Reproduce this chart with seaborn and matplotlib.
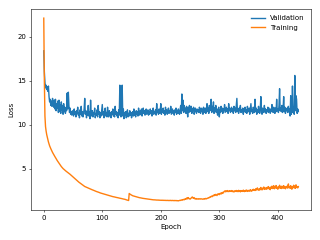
import numpy as np
import pandas as pd
import matplotlib
matplotlib.use("Agg")
import matplotlib.pyplot as plt
import seaborn as sns

# loss per epoch
validation_loss = [
    18.4, 16.0, 14.8, 14.2, 14.5, 14.0, 14.3, 13.8, 14.4, 13.2,
    12.6, 12.9, 12.2, 12.7, 12.1, 13.0, 12.3, 12.0, 12.8, 11.8,
    12.9, 11.6, 12.4, 11.9, 12.7, 11.4, 12.8, 11.5, 12.3, 11.3,
    12.6, 11.7, 12.2, 11.2, 12.4, 11.5, 12.0, 11.3, 11.9, 11.6,
    13.6, 11.8, 13.7, 12.2, 11.4, 11.9, 11.2, 11.5, 11.1, 11.6,
    11.3, 11.0, 11.8, 11.2, 11.5, 10.9, 11.6, 11.3, 12.0, 11.1,
    11.4, 10.8, 11.7, 11.2, 12.1, 11.0, 11.5, 10.9, 11.3, 11.8,
    13.0, 11.2, 11.6, 10.8, 11.4, 11.1, 12.2, 11.0, 11.5, 10.7,
    12.8, 11.3, 11.0, 11.6, 10.9, 11.4, 11.2, 11.9, 10.8, 11.3,
    11.1, 11.7, 10.9, 12.2, 11.2, 11.5, 10.8, 11.4, 11.0, 11.6,
    12.3, 11.1, 11.5, 10.8, 11.3, 11.9, 11.0, 11.4, 10.9, 12.0,
    11.2, 10.9, 11.6, 11.1, 11.4, 10.8, 11.5, 11.2, 11.8, 11.0,
    11.3, 10.9, 12.1, 11.2, 11.5, 11.0, 11.4, 10.8, 11.7, 11.1,
    14.5, 11.3, 10.9, 11.6, 14.5, 11.0, 11.8, 10.7, 11.4, 11.1,
    11.5, 10.8, 11.2, 11.7, 10.9, 11.3, 11.0, 11.6, 11.1, 11.4,
    10.8, 11.2, 11.5, 11.0, 11.8, 11.1, 11.4, 10.9, 11.6, 11.2,
    11.5, 11.0, 11.9, 11.3, 11.1, 11.6, 11.2, 11.8, 11.0, 11.4,
    11.9, 11.3, 11.6, 11.1, 11.5, 11.8, 11.2, 11.4, 11.7, 11.1,
    11.5, 11.2, 11.8, 11.3, 11.6, 11.0, 11.4, 11.9, 11.2, 11.5,
    11.3, 11.7, 11.1, 12.4, 11.4, 11.6, 11.2, 11.8, 11.3, 11.5,
    12.4, 11.2, 11.7, 11.4, 11.9, 11.3, 11.6, 11.1, 12.0, 11.4,
    11.7, 11.2, 11.5, 11.9, 11.3, 11.6, 11.4, 12.1, 11.2, 11.5,
    11.8, 11.3, 11.6, 11.1, 11.7, 11.4, 11.9, 11.2, 11.6, 11.3,
    11.8, 11.4, 11.2, 11.7, 12.2, 11.3, 13.5, 11.6, 12.8, 11.4,
    12.2, 11.5, 11.9, 11.3, 12.1, 11.6, 10.9, 12.0, 11.4, 12.2,
    11.7, 11.5, 12.1, 11.3, 11.8, 11.6, 12.0, 11.2, 11.5, 11.9,
    11.6, 11.3, 11.8, 11.5, 11.7, 11.4, 12.0, 11.6, 11.3, 11.9,
    11.5, 11.8, 11.2, 12.0, 11.6, 11.4, 11.9, 11.3, 11.7, 12.4,
    11.5, 11.9, 11.3, 12.2, 11.6, 11.8, 12.9, 11.4, 12.1, 11.6,
    12.6, 11.3, 11.9, 11.5, 12.2, 11.4, 11.8, 11.1, 11.6, 12.0,
    10.9, 11.7, 11.4, 12.1, 11.5, 11.9, 11.3, 11.8, 11.6, 12.3,
    11.4, 11.7, 12.0, 11.5, 11.8, 11.3, 12.4, 11.6, 11.9, 11.4,
    11.7, 12.0, 11.5, 11.8, 11.3, 12.1, 11.6, 11.9, 11.4, 12.2,
    13.0, 11.5, 11.8, 11.3, 11.9, 11.6, 12.2, 11.4, 11.7, 11.5,
    11.9, 11.2, 11.8, 11.5, 12.0, 11.4, 11.7, 11.3, 12.1, 11.6,
    11.5, 11.9, 11.2, 11.8, 12.4, 11.5, 11.7, 11.3, 12.0, 11.6,
    11.4, 12.9, 11.5, 11.9, 11.2, 11.7, 11.4, 12.1, 11.6, 11.3,
    11.8, 13.2, 11.5, 11.2, 11.9, 11.6, 11.4, 12.2, 11.5, 11.8,
    11.3, 11.7, 11.5, 12.0, 11.4, 11.9, 11.6, 11.3, 11.8, 11.5,
    12.3, 11.6, 11.4, 12.0, 11.7, 11.3, 11.9, 11.5, 12.9, 11.6,
    11.8, 11.4, 12.2, 14.1, 11.6, 11.9, 11.5, 12.2, 11.4, 11.8,
    13.2, 11.5, 12.0, 11.3, 11.8, 11.6, 11.9, 11.4, 12.1, 11.5,
    11.8, 11.0, 13.3, 11.2, 11.7, 14.4, 11.4, 12.0, 11.2, 15.6,
    11.6, 13.3, 12.9, 11.3, 11.8, 11.5,
]

training_loss = [
    22.1, 15.0, 11.0, 9.8, 9.3, 8.9, 8.6, 8.3, 8.05, 7.82,
    7.62, 7.45, 7.3, 7.15, 7.0, 6.87, 6.75, 6.62, 6.5, 6.4,
    6.3, 6.18, 6.06, 5.95, 5.85, 5.74, 5.64, 5.54, 5.45, 5.36,
    5.27, 5.19, 5.11, 5.04, 4.98, 4.92, 4.86, 4.8, 4.75, 4.7,
    4.65, 4.6, 4.55, 4.5, 4.45, 4.39, 4.33, 4.27, 4.21, 4.15,
    4.1, 4.04, 3.98, 3.92, 3.86, 3.8, 3.74, 3.68, 3.62, 3.56,
    3.5, 3.45, 3.4, 3.35, 3.3, 3.25, 3.2, 3.15, 3.1, 3.05,
    3.01, 2.98, 2.95, 2.92, 2.89, 2.86, 2.83, 2.8, 2.77, 2.74,
    2.72, 2.69, 2.66, 2.63, 2.61, 2.58, 2.55, 2.53, 2.5, 2.47,
    2.44, 2.42, 2.4, 2.37, 2.35, 2.32, 2.3, 2.27, 2.25, 2.22,
    2.2, 2.18, 2.16, 2.14, 2.12, 2.1, 2.08, 2.06, 2.04, 2.02,
    2.0, 1.98, 1.96, 1.95, 1.93, 1.91, 1.89, 1.88, 1.86, 1.85,
    1.83, 1.82, 1.8, 1.79, 1.77, 1.76, 1.74, 1.73, 1.71, 1.7,
    1.68, 1.67, 1.65, 1.64, 1.62, 1.61, 1.59, 1.58, 1.56, 1.55,
    1.52, 1.5, 1.48, 1.46, 1.44, 1.42, 2.22, 2.16, 2.11, 2.07,
    2.02, 1.99, 1.96, 1.94, 1.91, 1.89, 1.87, 1.85, 1.83, 1.82,
    1.8, 1.78, 1.77, 1.75, 1.74, 1.72, 1.71, 1.7, 1.68, 1.67,
    1.66, 1.65, 1.63, 1.62, 1.61, 1.6, 1.59, 1.58, 1.57, 1.56,
    1.55, 1.55, 1.54, 1.53, 1.52, 1.52, 1.51, 1.5, 1.5, 1.49,
    1.49, 1.48, 1.48, 1.47, 1.47, 1.46, 1.47, 1.45, 1.46, 1.45,
    1.45, 1.44, 1.46, 1.44, 1.43, 1.45, 1.44, 1.43, 1.44, 1.42,
    1.43, 1.44, 1.42, 1.43, 1.41, 1.43, 1.42, 1.44, 1.41, 1.42,
    1.43, 1.41, 1.42, 1.4, 1.43, 1.41, 1.4, 1.42, 1.39, 1.41,
    1.38, 1.4, 1.43, 1.45, 1.42, 1.47, 1.5, 1.46, 1.52, 1.55,
    1.5, 1.58, 1.62, 1.55, 1.68, 1.72, 1.6, 1.75, 1.65, 1.62,
    1.58, 1.63, 1.7, 1.78, 1.82, 1.7, 1.66, 1.75, 1.62, 1.6,
    1.65, 1.58, 1.62, 1.6, 1.57, 1.63, 1.6, 1.58, 1.62, 1.59,
    1.61, 1.58, 1.56, 1.6, 1.63, 1.58, 1.62, 1.66, 1.61, 1.65,
    1.68, 1.72, 1.7, 1.78, 1.82, 1.79, 1.88, 1.92, 1.86, 1.95,
    2.02, 1.96, 2.08, 2.0, 2.12, 2.05, 1.98, 2.15, 2.1, 2.18,
    2.08, 2.2, 2.25, 2.15, 2.3, 2.22, 2.35, 2.28, 2.42, 2.48,
    2.52, 2.4, 2.5, 2.45, 2.55, 2.42, 2.48, 2.53, 2.44, 2.5,
    2.47, 2.55, 2.42, 2.5, 2.46, 2.38, 2.52, 2.45, 2.49, 2.56,
    2.44, 2.5, 2.42, 2.58, 2.47, 2.51, 2.4, 2.55, 2.48, 2.52,
    2.45, 2.6, 2.5, 2.43, 2.55, 2.48, 2.62, 2.5, 2.45, 2.58,
    2.5, 2.56, 2.48, 2.65, 2.52, 2.47, 2.6, 2.55, 2.7, 2.58,
    2.62, 2.55, 2.75, 2.6, 2.68, 2.85, 2.62, 2.7, 2.58, 2.78,
    2.65, 2.9, 2.7, 2.62, 2.82, 2.75, 2.95, 2.68, 2.8, 2.72,
    2.88, 2.7, 2.92, 2.78, 3.0, 2.75, 2.85, 2.65, 2.95, 2.8,
    3.05, 2.78, 2.9, 3.1, 2.75, 2.95, 2.85, 3.12, 2.8, 2.92,
    2.7, 3.0, 2.85, 3.15, 2.82, 2.95, 2.78, 3.05, 2.9, 2.8,
    3.1, 2.85, 2.95, 2.75, 3.0, 2.88, 3.05, 2.82, 3.3, 2.9,
    2.95, 2.8, 3.1, 2.85, 2.7, 3.0, 2.88, 3.15, 2.85, 3.05,
    2.8, 3.2, 2.9, 3.0, 2.85, 3.0,
]

epochs = np.arange(len(training_loss))

df = pd.DataFrame({
    "Epoch": np.concatenate([epochs, epochs]),
    "Loss": validation_loss + training_loss,
    "Series": ["Validation"] * len(validation_loss) + ["Training"] * len(training_loss),
})

# original looks like a default 6.4x4.8 figure saved at 50 dpi
fig, ax = plt.subplots(figsize=(6.4, 4.8), dpi=50)
sns.lineplot(data=df, x="Epoch", y="Loss", hue="Series",
             palette=["#1f77b4", "#ff7f0e"], ax=ax, lw=2)

ax.set_xlabel("Epoch")
ax.set_ylabel("Loss")
ax.set_xticks([0, 100, 200, 300, 400])
ax.set_yticks([5, 10, 15, 20])
ax.legend(frameon=False, loc="upper right")

fig.subplots_adjust(left=0.097, right=0.972, bottom=0.125, top=0.9625)
fig.savefig("out.png", dpi=50)
